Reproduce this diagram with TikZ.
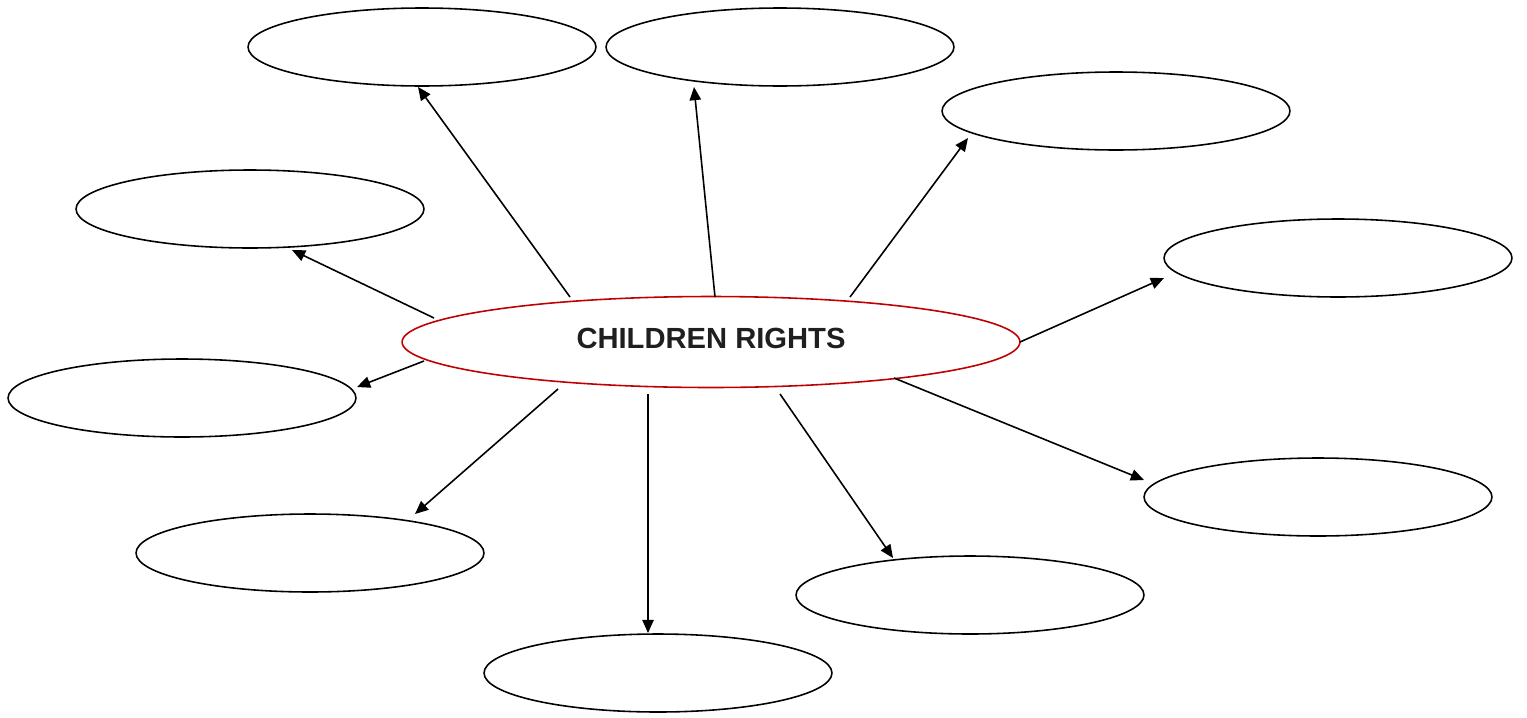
\documentclass[tikz,border=0pt]{standalone}
\usepackage{fontspec}
\setmainfont{Liberation Sans}
\usetikzlibrary{arrows.meta,shapes.geometric}
\definecolor{hubred}{HTML}{C00000}
\definecolor{txt}{HTML}{1F1F1F}
\begin{document}
\begin{tikzpicture}[x=0.02cm,y=-0.02cm,
  leaf/.style={draw=black,ellipse,line width=0.9pt,minimum width=6.96cm,minimum height=1.56cm,inner sep=0pt},
  hub/.style={draw=hubred,ellipse,line width=0.9pt,minimum width=12.36cm,minimum height=1.82cm,inner sep=0pt,
    text depth=0.16cm,font=\fontsize{16.6}{18}\selectfont\bfseries,text=txt},
  link/.style={line width=0.9pt,-{Triangle[length=7.5pt,width=6.5pt]}}]
\useasboundingbox (0,0) rectangle (1527,717);
\node[hub] (c) at (711,342) {CHILDREN RIGHTS};
\node[leaf] (e1) at (422,47) {};
\node[leaf] (e2) at (780,47) {};
\node[leaf] (e3) at (1116,111) {};
\node[leaf] (e4) at (250,209) {};
\node[leaf] (e5) at (1338,258) {};
\node[leaf] (e6) at (182,398) {};
\node[leaf] (e7) at (310,553) {};
\node[leaf] (e8) at (1318,497) {};
\node[leaf] (e9) at (970,595) {};
\node[leaf] (e10) at (658,673) {};
\coordinate (s1) at (570,297);
\coordinate (s2) at (715,297);
\coordinate (s3) at (850,297);
\coordinate (s4) at (434,318);
\coordinate (s5) at (1020,342);
\coordinate (s6) at (424,361);
\coordinate (s7) at (558,389);
\coordinate (s8) at (648,394);
\coordinate (s9) at (780,394);
\coordinate (s10) at (894,378);
\coordinate (t1) at (418,87);
\coordinate (t2) at (694,87);
\coordinate (t3) at (968,138);
\coordinate (t4) at (292,250);
\coordinate (t5) at (1164,278);
\coordinate (t6) at (357,387);
\coordinate (t7) at (415,514);
\coordinate (t8) at (648,633);
\coordinate (t9) at (893,558);
\coordinate (t10) at (1144,480);
\foreach \i in {1,...,10} \draw[link] (s\i) -- (t\i);
\end{tikzpicture}
\end{document}
